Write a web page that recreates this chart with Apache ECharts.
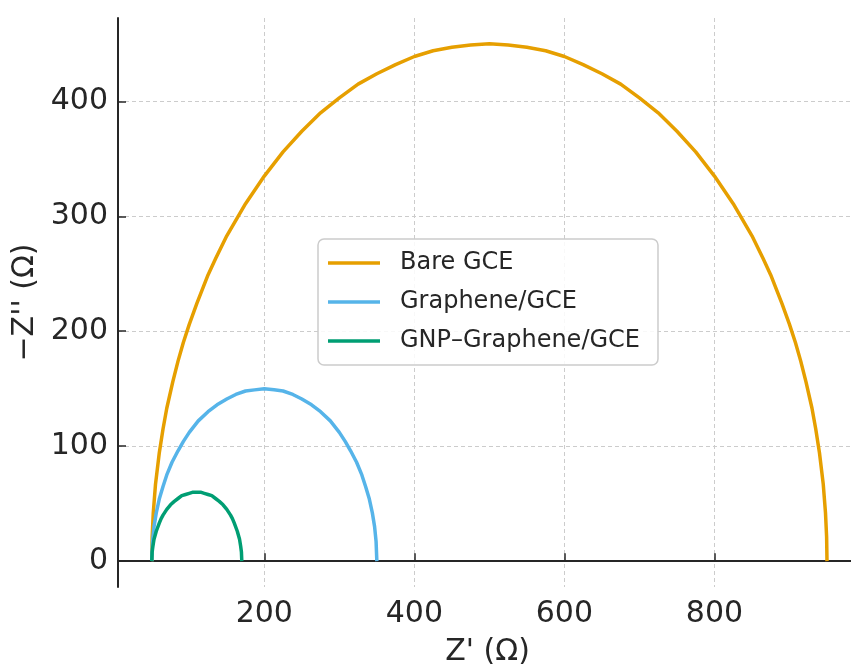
<!DOCTYPE html>
<html>
<head>
<meta charset="utf-8">
<script src="https://cdn.jsdelivr.net/npm/echarts@6/dist/echarts.min.js"></script>
<style>
  html, body { margin: 0; padding: 0; background: #fff; }
  #main { width: 851px; height: 665px; }
</style>
</head>
<body>
<div id="main"></div>
<script>
// Z' / -Z'' points
var bareGCE = [
  [50, 0], [50.5, 21], [52, 42], [55, 67], [60, 94], [65, 115], [70, 133], [78, 156],
  [85, 174], [92, 190], [100, 206], [110, 224], [125, 249], [135, 263], [150, 283],
  [175, 311], [200, 335], [225, 356], [250, 374], [275, 390], [300, 403], [325, 415],
  [350, 424], [375, 432], [400, 439], [425, 444], [450, 447], [475, 449], [500, 450],
  [525, 449], [550, 447], [575, 444], [600, 439], [625, 432], [650, 424], [675, 415],
  [700, 403], [725, 390], [750, 374], [775, 356], [800, 335], [825, 311], [850, 283],
  [865, 263], [875, 249], [890, 224], [900, 206], [908, 190], [915, 174], [922, 156],
  [930, 133], [935, 115], [940, 94], [945, 67], [948, 42], [949.5, 21], [950, 0]
];
var grapheneGCE = [
  [50, 0], [51, 17], [53, 30], [56, 42], [60, 54], [65, 65], [70, 75], [77, 86],
  [85, 96], [92, 104], [100, 112], [112, 122], [125, 130], [137, 136], [150, 141],
  [162, 145], [175, 148], [187, 149], [200, 150], [213, 149], [225, 148], [238, 145],
  [250, 141], [263, 136], [275, 130], [288, 122], [300, 112], [308, 104], [315, 96],
  [323, 86], [330, 75], [335, 65], [340, 54], [344, 42], [347, 30], [349, 17], [350, 0]
];
var gnpGrapheneGCE = [
  [50, 0], [50.5, 8], [51.5, 13], [53, 19], [56, 26], [60, 33], [62.5, 37], [65, 40],
  [70, 45], [75, 49], [80, 52], [85, 54.5], [90, 57], [95, 58], [100, 59], [105, 60],
  [110, 60], [115, 60], [120, 59], [125, 58], [130, 57], [135, 54.5], [140, 52], [145, 49],
  [150, 45], [155, 40], [157.5, 37], [160, 33], [164, 26], [167, 19], [168.5, 13],
  [169.5, 8], [170, 0]
];
var seriesNames = ['Bare GCE', 'Graphene/GCE', 'GNP\u2013Graphene/GCE'];
var seriesColors = ['#E69F00', '#56B4E9', '#009E73'];
var xTicks = [200, 400, 600, 800];
var yTicks = [0, 100, 200, 300, 400];

var myChart = echarts.init(document.getElementById('main'));
var font = 'DejaVu Sans';
var axisColor = '#262626';
var gridLine = { show: true, lineStyle: { color: '#cccccc', width: 1, type: [4, 3] } };

var seriesData = [bareGCE, grapheneGCE, gnpGrapheneGCE];
var option = {
  animation: false,
  textStyle: { fontFamily: font },
  grid: { left: 118, right: 0, top: 18, bottom: 78, containLabel: false, outerBoundsMode: 'none' },
  legend: {
    left: 318, top: 239,
    orient: 'vertical',
    data: seriesNames,
    icon: 'rect',
    itemWidth: 52, itemHeight: 3.5, itemGap: 15,
    padding: [12, 18, 12, 10],
    backgroundColor: 'rgba(255,255,255,0.85)',
    borderColor: '#cccccc', borderWidth: 1.5, borderRadius: 6,
    textStyle: { fontFamily: font, fontSize: 24, color: '#262626', lineHeight: 24, padding: [0, 0, 0, 15] }
  },
  xAxis: {
    type: 'value', min: 5, max: 982,
    name: "Z' (\u03A9)", nameLocation: 'middle', nameGap: 50,
    nameTextStyle: { fontFamily: font, fontSize: 30, color: axisColor, padding: [0, 0, 0, 6] },
    axisLine: { show: true, lineStyle: { color: axisColor, width: 2 } },
    axisTick: { show: true, inside: true, length: 8, lineStyle: { color: axisColor, width: 1.5 }, customValues: xTicks },
    axisLabel: { fontFamily: font, fontSize: 30, color: axisColor, margin: 12, customValues: xTicks },
    splitLine: gridLine
  },
  yAxis: {
    type: 'value', min: -22.5, max: 472.5,
    name: "\u2212Z'' (\u03A9)", nameLocation: 'middle', nameGap: 70, nameRotate: 90,
    nameTextStyle: { fontFamily: font, fontSize: 30, color: axisColor },
    axisLine: { show: true, lineStyle: { color: axisColor, width: 2 } },
    axisTick: { show: true, inside: true, length: 8, lineStyle: { color: axisColor, width: 1.5 }, customValues: yTicks },
    axisLabel: { fontFamily: font, fontSize: 30, color: axisColor, margin: 10, customValues: yTicks },
    splitLine: gridLine
  },
  series: seriesData.map(function (d, i) {
    return {
      name: seriesNames[i],
      type: 'line',
      data: d,
      showSymbol: false,
      symbol: 'none',
      smooth: false,
      color: seriesColors[i],
      lineStyle: { width: 3.5, color: seriesColors[i], join: 'round' }
    };
  })
};
myChart.setOption(option);
</script>
</body>
</html>
